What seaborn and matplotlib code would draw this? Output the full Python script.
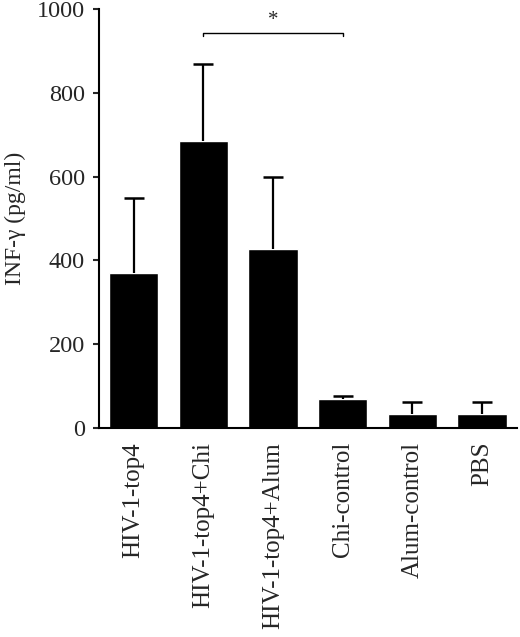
import numpy as np
import pandas as pd
import seaborn as sns
import matplotlib.pyplot as plt

groups = ['HIV-1-top4', 'HIV-1-top4+Chi', 'HIV-1-top4+Alum',
          'Chi-control', 'Alum-control', 'PBS']
means = [371, 686, 428, 70, 34, 34]
errs = [177, 183, 171, 7, 27, 27]
yticks = [0, 200, 400, 600, 800, 1000]

sns.set_style('white')
plt.rcParams['font.family'] = ['Liberation Serif', 'DejaVu Serif']

df = pd.DataFrame({'group': groups, 'mean': means})

fig = plt.figure(figsize=(5.2, 6.37), dpi=100)
ax = fig.add_axes([0.190, 0.328, 0.804, 0.658])

sns.barplot(data=df, x='group', y='mean', color='black', width=0.71,
            errorbar=None, ax=ax, saturation=1)
x = np.arange(len(groups))
tops = np.array(means) + np.array(errs)
# upper-only error bars
ax.vlines(x, means, tops, color='black', lw=1.6, zorder=3)
ax.plot(x, tops, ls='none', marker='_', ms=14.5, mew=1.8, color='black', zorder=3)

# significance bracket between group 2 and 4
y_br = 943
ax.plot([1, 1, 3, 3], [y_br - 8, y_br, y_br, y_br - 8], color='black', lw=1)
ax.text(2, y_br + 6, '*', ha='center', va='bottom', fontsize=15)

ax.set_xlim(-0.5, 5.5)
ax.set_ylim(0, 1000)
ax.set_yticks(yticks)
ax.set_xlabel('')
ax.set_ylabel('INF-γ (pg/ml)', fontsize=17, labelpad=8)
ax.tick_params(axis='y', direction='out', length=4, width=1.5,
               labelsize=17.5, left=True, pad=6)
ax.tick_params(axis='x', length=0, labelsize=18, pad=10)
plt.setp(ax.get_xticklabels(), rotation=90)
for s in ['top', 'right']:
    ax.spines[s].set_visible(False)
for s in ['left', 'bottom']:
    ax.spines[s].set_linewidth(1.5)
    ax.spines[s].set_color('black')

fig.savefig('out.png', dpi=100)
